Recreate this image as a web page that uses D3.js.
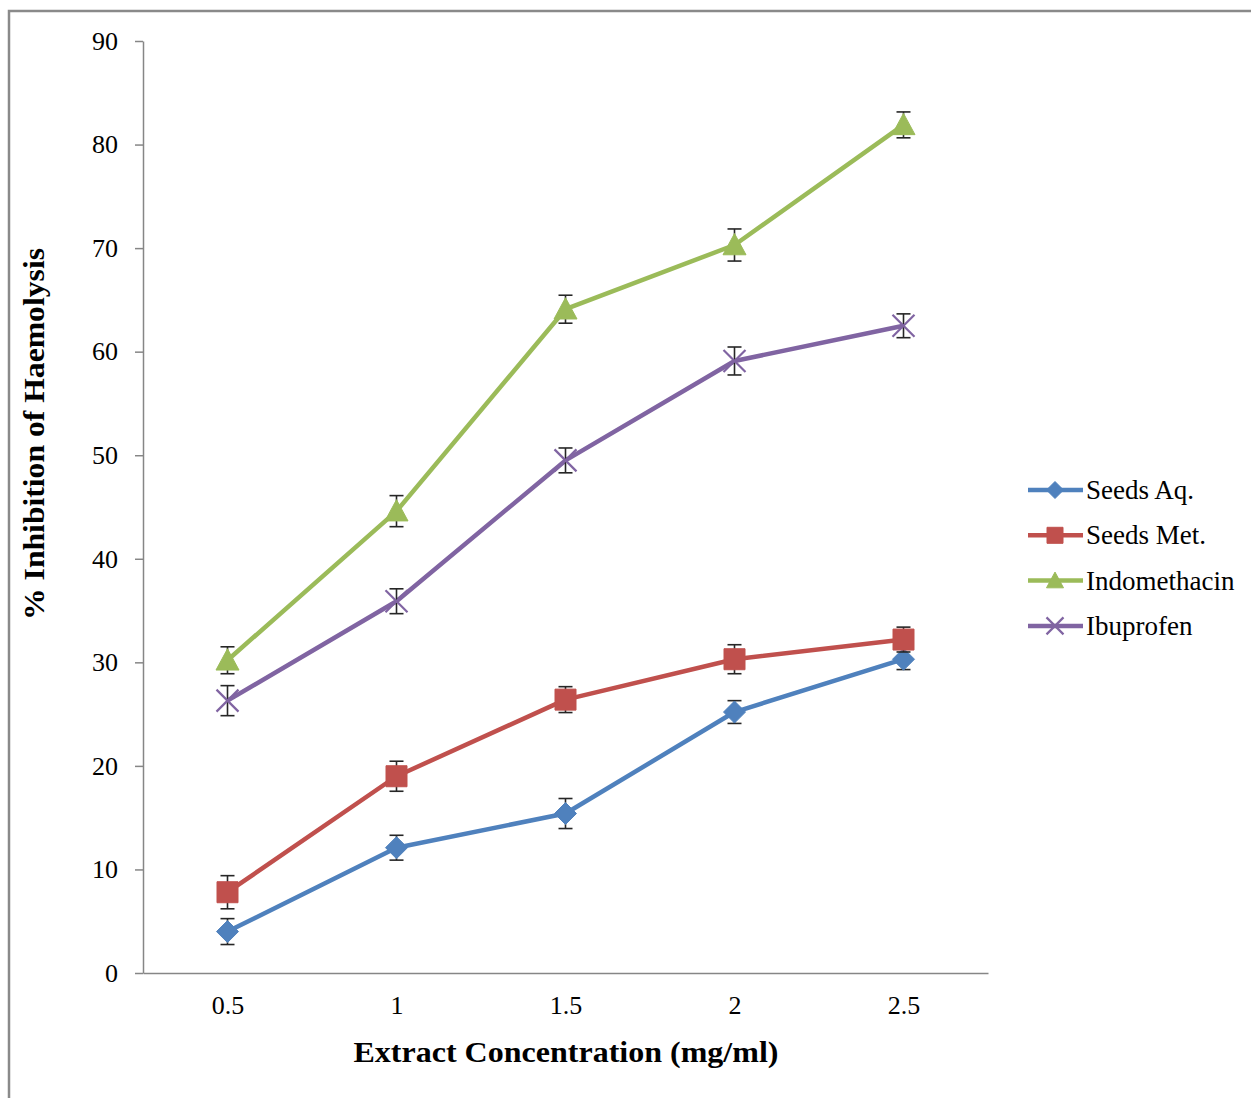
<!DOCTYPE html>
<html>
<head>
<meta charset="utf-8">
<script src="https://cdn.jsdelivr.net/npm/d3@7"></script>
<style>
  body { margin: 0; background: #fff; }
  text { font-family: "Liberation Serif", "Times New Roman", serif; }
</style>
</head>
<body>
<script>
'use strict';

// data
const concentrations = ["0.5", "1", "1.5", "2", "2.5"]
const yTicks = [0, 10, 20, 30, 40, 50, 60, 70, 80, 90]

const seedsAq = [4.0, 12.1, 15.4, 25.2, 30.3]
const seedsAqErr = [1.25, 1.2, 1.45, 1.1, 1.0]
const seedsMet = [7.8, 19.0, 26.4, 30.3, 32.2]
const seedsMetErr = [1.6, 1.45, 1.25, 1.4, 1.2]
const indomethacin = [30.2, 44.6, 64.1, 70.3, 81.9]
const indomethacinErr = [1.3, 1.5, 1.35, 1.55, 1.25]
const ibuprofen = [26.3, 35.9, 49.5, 59.1, 62.5]
const ibuprofenErr = [1.45, 1.2, 1.2, 1.35, 1.15]

const seriesNames = ["Seeds Aq.", "Seeds Met.", "Indomethacin", "Ibuprofen"]
const seriesColors = ["#4F81BD", "#C0504D", "#9BBB59", "#8064A2"]
const seriesShapes = ["diamond", "square", "triangle", "cross"]

const series = [
    { values: seedsAq, errors: seedsAqErr },
    { values: seedsMet, errors: seedsMetErr },
    { values: indomethacin, errors: indomethacinErr },
    { values: ibuprofen, errors: ibuprofenErr }
].map((s, i) => ({
    name: seriesNames[i],
    color: seriesColors[i],
    shape: seriesShapes[i],
    points: s.values.map((v, j) => ({ x: concentrations[j], y: v, e: s.errors[j] }))
}))

const width = 1251, height = 1098

const svg = d3.select("body").append("svg")
    .attr("width", width)
    .attr("height", height)

// outer frame (left + top visible, rest runs off the picture)
svg.append("rect")
    .attr("x", 9).attr("y", 11)
    .attr("width", width + 20).attr("height", height + 20)
    .attr("fill", "none")
    .attr("stroke", "#8a8a8a")
    .attr("stroke-width", 2.5)

const x = d3.scalePoint()
    .domain(concentrations)
    .range([143, 988])
    .padding(0.5)

const y = d3.scaleLinear()
    .domain([0, 90])
    .range([973, 41])

// y axis
const yAxis = svg.append("g")
    .attr("transform", "translate(143,0)")
    .call(d3.axisLeft(y).tickValues(yTicks).tickSize(8).tickSizeOuter(0).tickPadding(17))
yAxis.selectAll("line, path").attr("stroke", "#868686").attr("stroke-width", 1.5)
yAxis.selectAll("text")
    .attr("font-size", "26px")
    .attr("fill", "#000")
    .style("font-family", "'Liberation Serif', serif")

// x axis
const xAxis = svg.append("g")
    .attr("transform", "translate(0,973)")
    .call(d3.axisBottom(x).tickSize(0).tickPadding(23))
xAxis.selectAll("path").attr("stroke", "#868686").attr("stroke-width", 1.5)
xAxis.selectAll("text")
    .attr("font-size", "26px")
    .attr("fill", "#000")
    .style("font-family", "'Liberation Serif', serif")

// axis titles
svg.append("text")
    .attr("x", 566)
    .attr("y", 1062)
    .attr("text-anchor", "middle")
    .attr("font-size", "29px")
    .attr("font-weight", "bold")
    .attr("textLength", 425)
    .attr("lengthAdjust", "spacingAndGlyphs")
    .text("Extract Concentration (mg/ml)")

svg.append("text")
    .attr("transform", "translate(44,434) rotate(-90)")
    .attr("text-anchor", "middle")
    .attr("font-size", "29px")
    .attr("font-weight", "bold")
    .attr("textLength", 372)
    .attr("lengthAdjust", "spacingAndGlyphs")
    .text("% Inhibition of Haemolysis")

function markerPath(shape, s) {
    // s = half extent of the marker
    if (shape === "diamond") return `M0,${-s}L${s},0L0,${s}L${-s},0Z`
    if (shape === "square") return `M${-s},${-s}H${s}V${s}H${-s}Z`
    if (shape === "triangle") return `M0,${-s}L${s},${s * 0.85}L${-s},${s * 0.85}Z`
    return `M${-s},${-s}L${s},${s}M${-s},${s}L${s},${-s}`
}

function drawMarker(g, d, shape, color, s) {
    const filled = shape !== "cross"
    g.append("path")
        .attr("d", markerPath(shape, s))
        .attr("fill", filled ? color : "none")
        .attr("stroke", color)
        .attr("stroke-width", filled ? 1 : 2.2)
}

const line = d3.line()
    .x(d => x(d.x))
    .y(d => y(d.y))

series.forEach(function (s) {
    const g = svg.append("g").attr("class", "series")

    g.append("path")
        .datum(s.points)
        .attr("d", line)
        .attr("fill", "none")
        .attr("stroke", s.color)
        .attr("stroke-width", 4.5)
        .attr("stroke-linejoin", "round")

    // error bars
    const eb = g.selectAll(".err")
        .data(s.points)
        .enter()
        .append("g")
        .attr("class", "err")
        .attr("stroke", "#262626")
        .attr("stroke-width", 1.6)
    eb.append("line")
        .attr("x1", d => x(d.x)).attr("x2", d => x(d.x))
        .attr("y1", d => y(d.y + d.e)).attr("y2", d => y(d.y - d.e))
    eb.append("line")
        .attr("x1", d => x(d.x) - 7).attr("x2", d => x(d.x) + 7)
        .attr("y1", d => y(d.y + d.e)).attr("y2", d => y(d.y + d.e))
    eb.append("line")
        .attr("x1", d => x(d.x) - 7).attr("x2", d => x(d.x) + 7)
        .attr("y1", d => y(d.y - d.e)).attr("y2", d => y(d.y - d.e))

    const size = s.shape === "triangle" ? 11.5 : s.shape === "square" ? 10.5 : 11
    g.selectAll(".mark")
        .data(s.points)
        .enter()
        .append("g")
        .attr("class", "mark")
        .attr("transform", d => `translate(${x(d.x)},${y(d.y)})`)
        .each(function (d) { drawMarker(d3.select(this), d, s.shape, s.color, size) })
})

// legend
const legend = svg.append("g")
    .attr("transform", "translate(1028,490)")

const legendRows = legend.selectAll(".row")
    .data(series)
    .enter()
    .append("g")
    .attr("class", "row")
    .attr("transform", (d, i) => `translate(0,${i * 45.3})`)

legendRows.append("line")
    .attr("x1", 0).attr("x2", 55)
    .attr("y1", 0).attr("y2", 0)
    .attr("stroke", d => d.color)
    .attr("stroke-width", 4.5)

legendRows.append("g")
    .attr("transform", "translate(27,0)")
    .each(function (d) { drawMarker(d3.select(this), d, d.shape, d.color, d.shape === "square" ? 8 : 8.5) })

legendRows.append("text")
    .attr("x", 58)
    .attr("y", 9)
    .attr("font-size", "27px")
    .attr("fill", "#000")
    .text(d => d.name)
</script>
</body>
</html>
